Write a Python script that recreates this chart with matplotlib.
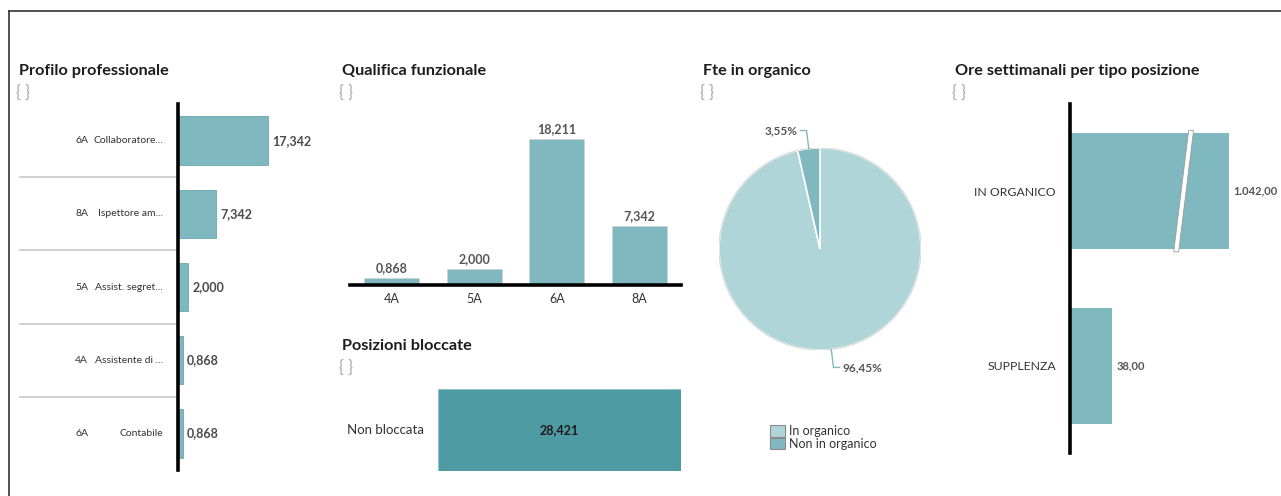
import matplotlib.pyplot as plt
from matplotlib.patches import Patch, Polygon
import numpy as np

plt.rcParams['font.family'] = ['Lato', 'DejaVu Sans']

# Dati
profili_codice = ['6A', '8A', '5A', '4A', '6A']
profili_nome = ['Collaboratore...', 'Ispettore am...', 'Assist. segret...', 'Assistente di ...', 'Contabile']
profili_valori = [17.342, 7.342, 2.000, 0.868, 0.868]

qualifiche = ['4A', '5A', '6A', '8A']
qualifiche_valori = [0.868, 2.000, 18.211, 7.342]

bloccate_cat = ['Non bloccata']
bloccate_valori = [28.421]

fte_cat = ['In organico', 'Non in organico']
fte_perc = [96.45, 3.55]

ore_cat = ['IN ORGANICO', 'SUPPLENZA']
ore_valori = [1042.00, 38.00]

# Colori
c_bar = '#7fb9bf'
c_dark = '#4f9ba3'
c_pie = ['#afd5d9', '#7fb9bf']
c_txt = '#333333'
c_val = '#4a4a4a'

W, H = 1281, 496
fig = plt.figure(figsize=(W / 100, H / 100), dpi=100)


def px_axes(l, t, r, b):
    return fig.add_axes([l / W, 1 - b / H, (r - l) / W, (b - t) / H])


def titolo(x, y, testo):
    fig.text(x / W, 1 - y / H, testo, fontsize=11.7, fontweight='bold', color='#1d1d1d', va='center', ha='left')
    fig.text((x - 3) / W, 1 - (y + 22) / H, '{ }', fontsize=12, color='#a8a8a8', va='center', ha='left')


def it3(v):
    return f'{v:.3f}'.replace('.', ',')


def it2(v):
    return f'{v:,.2f}'.replace(',', '#').replace('.', ',').replace('#', '.')


# Bordo
fig.add_artist(plt.Line2D([9 / W, 9 / W], [0, 1 - 11 / H], color='#333333', lw=1.2, transform=fig.transFigure))
fig.add_artist(plt.Line2D([9 / W, 1], [1 - 11 / H, 1 - 11 / H], color='#333333', lw=1.2, transform=fig.transFigure))

# --- Profilo professionale ---
titolo(19, 71, 'Profilo professionale')
ax1 = px_axes(178, 104, 330, 470)
y1 = np.arange(len(profili_valori))
ax1.barh(y1, profili_valori, height=0.66, color=c_bar, edgecolor='#6aa7ad', linewidth=0.6)
ax1.set_ylim(len(profili_valori) - 0.5, -0.5)
ax1.set_xlim(0, 29.3)
for s in ['top', 'right', 'bottom']:
    ax1.spines[s].set_visible(False)
ax1.spines['left'].set_linewidth(2.6)
ax1.spines['left'].set_color('black')
ax1.set_xticks([])
ax1.set_yticks([])
tr1 = ax1.get_yaxis_transform()
for i, (cod, nome, v) in enumerate(zip(profili_codice, profili_nome, profili_valori)):
    ax1.text(-0.592, i, cod, transform=tr1, ha='right', va='center', fontsize=7.5, color=c_txt)
    ax1.text(-0.099, i, nome, transform=tr1, ha='right', va='center', fontsize=7.5, color=c_txt)
    ax1.annotate(it3(v), (v, i), xytext=(3, 0), textcoords='offset points',
                 ha='left', va='center', fontsize=9, fontweight='bold', color=c_val)
for i in range(len(profili_valori) - 1):
    ax1.plot([-1.04, -0.012], [i + 0.5, i + 0.5], transform=tr1, color='#c8c8c8', lw=1.2, clip_on=False)

# --- Qualifica funzionale ---
titolo(342, 71, 'Qualifica funzionale')
ax2 = px_axes(350, 105, 681, 285)
x2 = np.arange(len(qualifiche))
ax2.bar(x2, qualifiche_valori, width=0.665, color=c_bar, edgecolor='#d0d0d0', linewidth=0.5)
ax2.set_xlim(-0.5, len(qualifiche) - 0.5)
ax2.set_ylim(0, 22.44)
for s in ['top', 'right', 'left']:
    ax2.spines[s].set_visible(False)
ax2.spines['bottom'].set_linewidth(2.6)
ax2.spines['bottom'].set_color('black')
ax2.set_yticks([])
ax2.set_xticks(x2)
ax2.set_xticklabels(qualifiche, fontsize=9, color=c_txt)
ax2.tick_params(axis='x', length=0, pad=6)
for xi, v in zip(x2, qualifiche_valori):
    ax2.annotate(it3(v), (xi, v), xytext=(0, 3), textcoords='offset points',
                 ha='center', va='bottom', fontsize=9, fontweight='bold', color='#555555')

# --- Posizioni bloccate ---
titolo(342, 346, 'Posizioni bloccate')
ax3 = px_axes(438, 389, 681, 471)
ax3.barh([0], bloccate_valori, height=1.0, color=c_dark, edgecolor='#8fc0c5', linewidth=0.6)
ax3.set_xlim(0, max(bloccate_valori))
ax3.set_ylim(0.5, -0.5)
ax3.axis('off')
ax3.text(-14 / 243, 0, bloccate_cat[0], transform=ax3.get_yaxis_transform(), ha='right', va='center',
         fontsize=9.5, color=c_txt)
ax3.text(bloccate_valori[0] / 2, 0, it3(bloccate_valori[0]), ha='center', va='center',
         fontsize=9, fontweight='bold', color='#1a1a1a')

# --- Fte in organico ---
titolo(703, 71, 'Fte in organico')
ax4 = px_axes(719, 148, 921, 350)
wedges, _ = ax4.pie(fte_perc, colors=c_pie, startangle=90, counterclock=False, radius=1,
                    wedgeprops=dict(edgecolor='white', linewidth=1.2))
ax4.add_patch(plt.Circle((0, 0), 1.0, fill=False, edgecolor='#d8d8d8', lw=0.8))
ax4.set_xlim(-1, 1)
ax4.set_ylim(-1, 1)
for w, p in zip(wedges, fte_perc):
    ang = np.deg2rad((w.theta1 + w.theta2) / 2)
    dx, dy = np.cos(ang), np.sin(ang)
    x0, y0 = dx * 1.0, dy * 1.0
    x1, y1_ = dx * 1.2, dy * 1.18
    side = 1 if dx > 0 else -1
    x2_ = x1 + side * 0.06
    ax4.plot([x0, x1, x2_], [y0, y1_, y1_], color='#7fb9bf', lw=1, clip_on=False)
    ax4.text(x2_ + side * 0.03, y1_, f'{p:.2f}%'.replace('.', ','), ha='left' if side > 0 else 'right',
             va='center', fontsize=8.5, fontweight='bold', color='#555555')
handles = [Patch(facecolor=c, edgecolor='#8a8a8a', linewidth=0.8) for c in c_pie]
fig.legend(handles, fte_cat, loc='upper left', bbox_to_anchor=(764 / W, 1 - 419 / H), frameon=False,
           fontsize=9, handlelength=1.2, handleheight=1.05, handletextpad=0.3, labelspacing=0.02,
           borderpad=0, labelcolor=c_txt)

# --- Ore settimanali per tipo posizione ---
titolo(955, 71, 'Ore settimanali per tipo posizione')
ax5 = px_axes(1070, 104, 1280, 453)
cap = 144
y5 = np.arange(len(ore_valori))
ore_mostrate = [min(v, cap) for v in ore_valori]
ax5.barh(y5, ore_mostrate, height=0.665, color=c_bar)
ax5.set_ylim(len(ore_valori) - 0.5, -0.5)
ax5.set_xlim(0, 190)
for s in ['top', 'right', 'bottom']:
    ax5.spines[s].set_visible(False)
ax5.spines['left'].set_linewidth(2.6)
ax5.spines['left'].set_color('black')
ax5.set_xticks([])
ax5.set_yticks(y5)
ax5.set_yticklabels(ore_cat, fontsize=8.8, color=c_txt)
ax5.tick_params(axis='y', length=0, pad=10)
for yi, v, vm in zip(y5, ore_valori, ore_mostrate):
    ax5.annotate(it2(v), (vm, yi), xytext=(3, 0), textcoords='offset points',
                 ha='left', va='center', fontsize=8, fontweight='bold', color='#555555')
    if v > cap:
        xb = cap * 0.70
        top, bot = yi - 0.665 / 2 - 0.015, yi + 0.665 / 2 + 0.015
        ax5.add_patch(Polygon([[xb + 6.5, top], [xb + 11, top], [xb - 2.5, bot], [xb - 7, bot]],
                              closed=True, facecolor='white', edgecolor='#9a9a9a', lw=0.6, clip_on=False))

fig.savefig('out.png', dpi=100)
